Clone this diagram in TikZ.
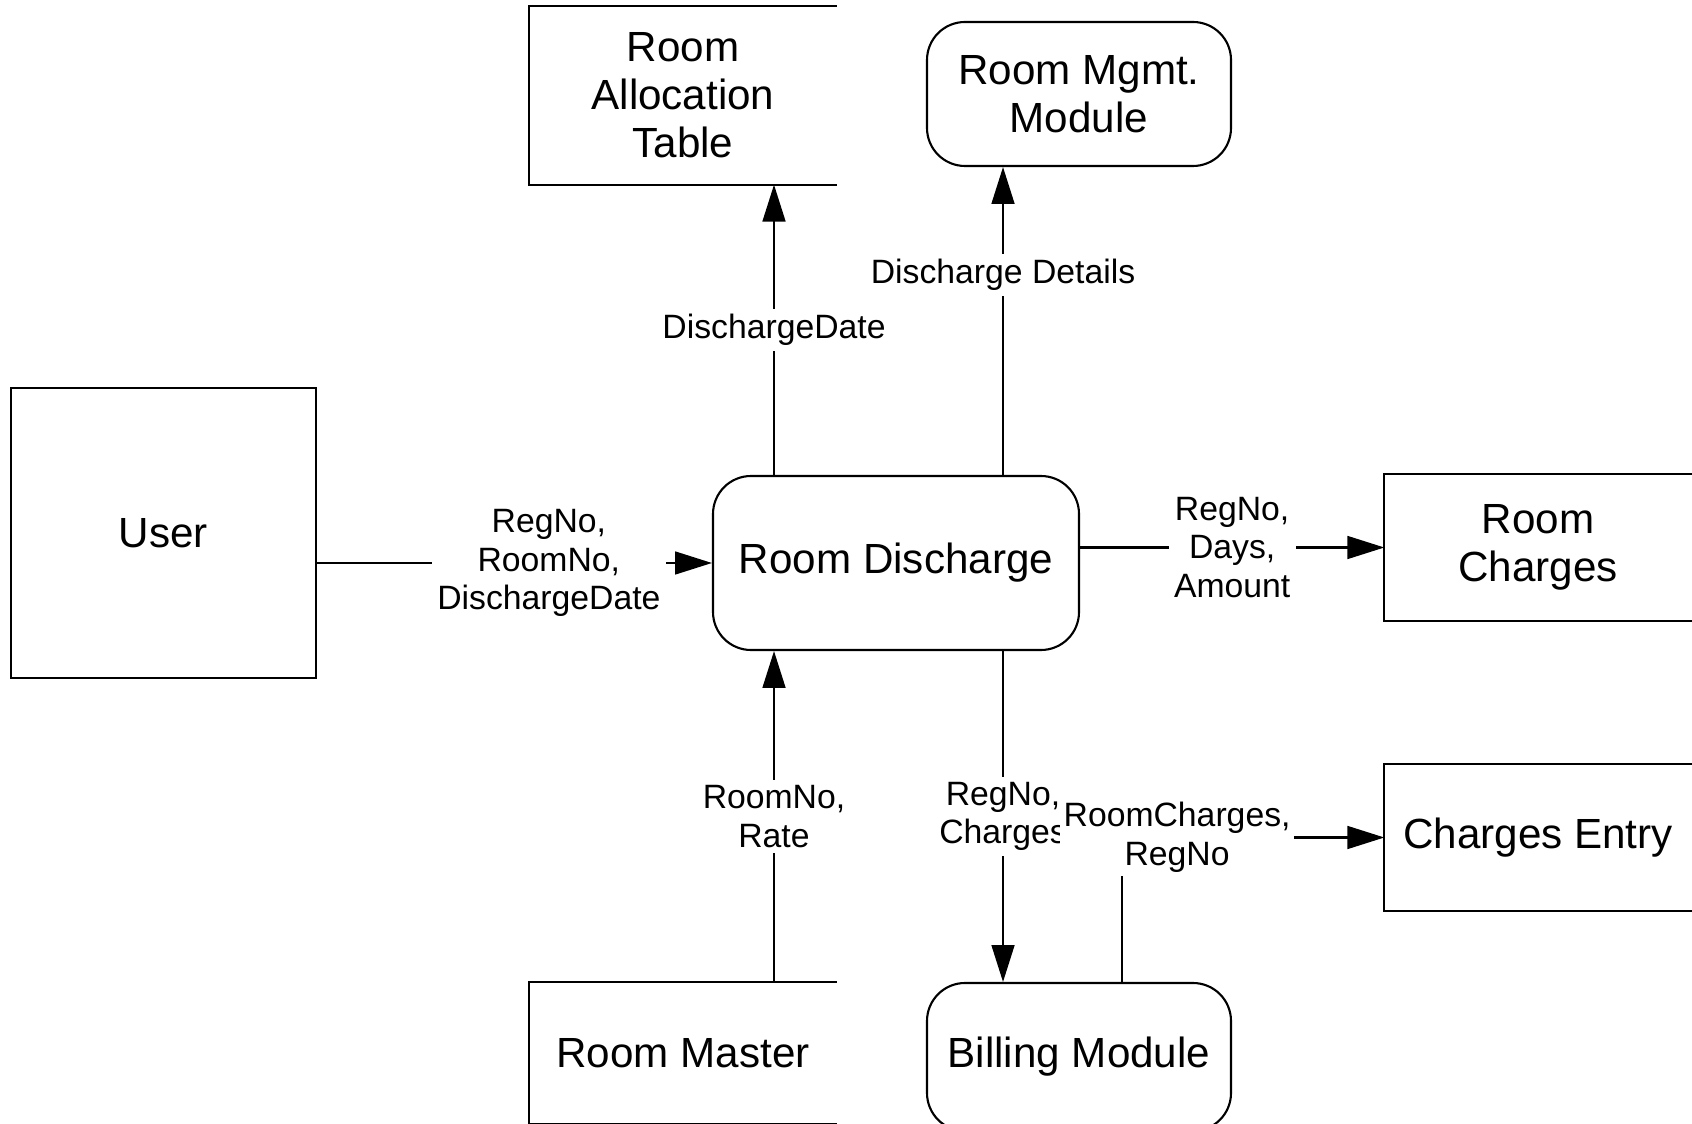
\documentclass[tikz,border=0pt]{standalone}
\usepackage{fontspec}
\setmainfont{Liberation Sans}
\usetikzlibrary{arrows.meta}
\tikzset{
  ent/.style={draw, line width=0.6pt, minimum width=3.05cm, minimum height=2.9cm, font=\fontsize{12}{13.7}\selectfont},
  proc/.style={draw, line width=0.6pt, rounded corners=0.38cm, minimum width=3.04cm, font=\fontsize{12}{13.7}\selectfont, align=center},
  store/.style={minimum width=3.06cm, font=\fontsize{12}{13.7}\selectfont, align=center},
  flow/.style={line width=0.6pt, -{Triangle[length=10.5pt,width=6.5pt]}},
  lbl/.style={fill=white, inner sep=1.5pt, font=\fontsize{9.6}{11}\selectfont, align=center}
}
\begin{document}
\begin{tikzpicture}
\useasboundingbox (0,0) rectangle (16.92,-11.24);
\node[ent] at (1.635,-5.33) (user) {User};
\node[proc, minimum width=3.66cm, minimum height=1.74cm] at (8.96,-5.63) (rd) {Room Discharge};
\node[proc, minimum height=1.44cm] at (10.79,-0.94) (rmm) {Room Mgmt.\\Module};
\node[proc, minimum height=1.48cm] at (10.79,-10.57) (bm) {Billing Module};
\node[store, minimum height=1.77cm] at (6.83,-0.955) (rat) {Room\\Allocation\\Table};
\node[store, minimum height=1.45cm] at (15.38,-5.475) (rc) {Room\\Charges};
\node[store, minimum height=1.45cm] at (15.38,-8.375) (ce) {Charges Entry};
\node[store, minimum height=1.40cm] at (6.83,-10.53) (rm) {Room Master};
% open-ended data stores
\foreach \s in {rat,rc,ce,rm}
  \draw[line width=0.6pt] (\s.north east) -- (\s.north west) -- (\s.south west) -- (\s.south east);
\coordinate (lx) at (7.74,0);
\coordinate (rx) at (10.03,0);
\coordinate (bx) at (11.22,0);
\draw[flow] (rd.north -| lx) -- node[lbl] {DischargeDate} (rat.south -| lx);
\draw[flow] (rd.north -| rx) -- node[lbl, pos=0.65] {Discharge Details} (rmm.south -| rx);
\draw[flow] (user.east |- rd.west) -- node[lbl, pos=0.587] {RegNo,\\RoomNo,\\DischargeDate} (rd.west);
\draw[flow] (rd.east |- rc.west) -- node[lbl] {RegNo,\\Days,\\Amount} (rc.west);
\draw[flow] (rm.north -| lx) -- node[lbl] {RoomNo,\\Rate} (rd.south -| lx);
\draw[flow] (rd.south -| rx) -- node[lbl] {RegNo,\\Charges} (bm.north -| rx);
\draw[flow] (bm.north -| bx) |- node[lbl, pos=0.605, inner sep=1pt] {RoomCharges,\\RegNo} (ce.west);
\end{tikzpicture}
\end{document}
